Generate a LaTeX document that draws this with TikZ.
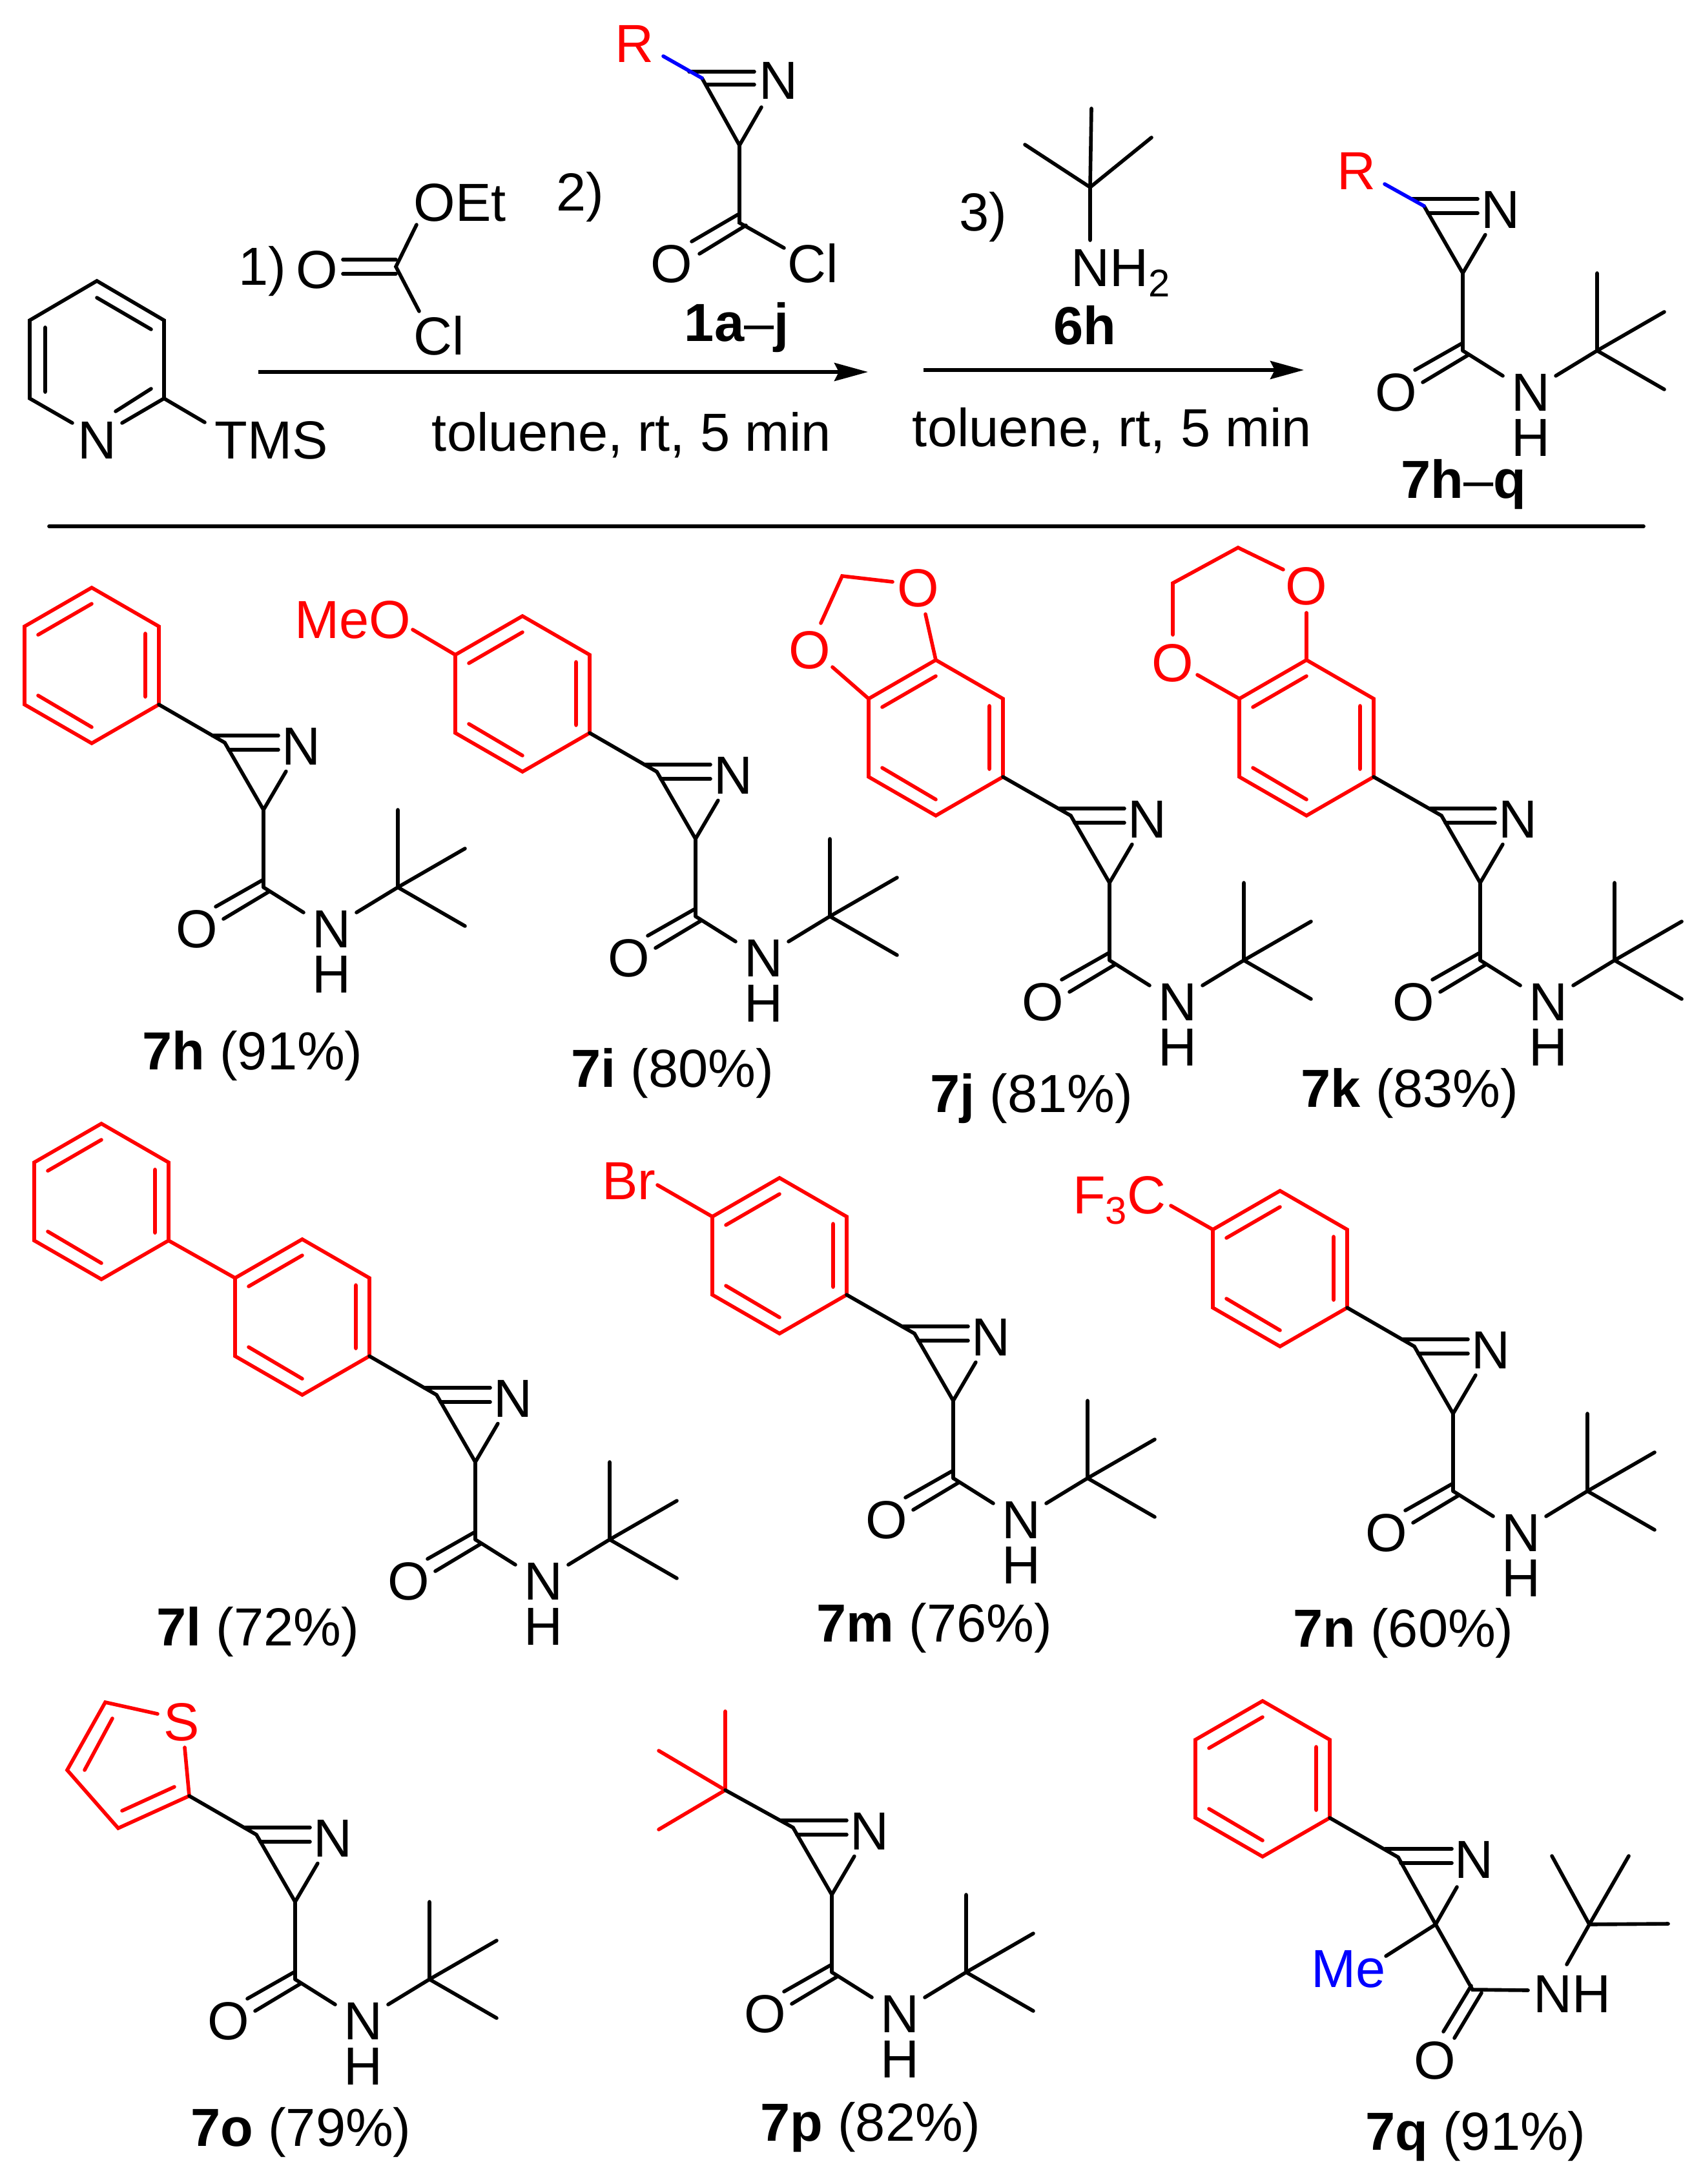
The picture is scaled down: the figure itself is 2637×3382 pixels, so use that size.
\documentclass[tikz,border=0pt]{standalone}
\usepackage{fontspec}
\setmainfont{Liberation Sans}
\usetikzlibrary{arrows.meta}
\definecolor{rd}{RGB}{255,0,0}
\definecolor{bl}{RGB}{0,0,255}
\tikzset{
  every node/.style={font=\fontsize{23.6}{28}\selectfont},
  bond/.style={line width=1.6pt,line cap=round},
  redbond/.style={bond,draw=rd},
  bluebond/.style={bond,draw=bl},
  atom/.style={inner sep=0pt,outer sep=0.1cm,text height=0.59cm,text depth=0pt,anchor=center},
  redatom/.style={atom,text=rd},
  lab/.style={inner sep=0pt,anchor=base},
  rxn/.style={line width=1.6pt,-{Stealth[length=0.52cm,width=0.28cm,inset=0.07cm]}}
}
\newcommand{\subfig}[1]{\raisebox{-0.2em}{\fontsize{17}{17}\selectfont #1}}
% azirine carboxamide, origin at the sp2 carbon
\newcommand{\azamide}[3]{%
\begin{scope}[shift={(#2,#3)}]
\coordinate (#1C3) at (0,0);
\coordinate (#1C2) at (60,104);
\coordinate (#1CO) at (60,224);
\coordinate (#1Q) at (268,224);
\coordinate (#1Me1) at (268,104);
\coordinate (#1Me2) at (372,164);
\coordinate (#1Me3) at (372,284);
\node[atom] (#1N) at (118,5) {N};
\node[atom] (#1O) at (-43,288) {O};
\node[atom,outer sep=0.04cm] (#1H) at (165,358) {H};
\node[atom,outer sep=0pt] (#1NX) at (165,288) {N};
\coordinate (#1a) at (-19,-11);
\coordinate (#1b) at (83,-11);
\coordinate (#1c) at (6,11);
\coordinate (#1d) at (83,11);
\coordinate (#1e) at (60,212);
\coordinate (#1f) at (-14,254);
\coordinate (#1g) at (68,231);
\coordinate (#1h) at (-2,273);
\coordinate (#1i) at (122,263);
\coordinate (#1j) at (204,263);
\draw[bond] (#1a)--(#1b) (#1c)--(#1d);
\draw[bond] (#1C3)--(#1C2)--(#1CO);
\draw[bond] (#1C2)--(#1N);
\draw[bond] (#1e)--(#1f) (#1g)--(#1h);
\draw[bond] (#1CO)--(#1i);
\draw[bond] (#1j)--(#1Q);
\draw[bond] (#1Q)--(#1Me1) (#1Q)--(#1Me2) (#1Q)--(#1Me3);
\end{scope}}
% red benzene ring, origin at the vertex bound to the azirine
\newcommand{\arene}[3]{%
\begin{scope}[shift={(#2,#3)}]
\coordinate (#1v1) at (0,0);
\coordinate (#1v2) at (0,-121);
\coordinate (#1v3) at (-104,-181);
\coordinate (#1v4) at (-208,-121);
\coordinate (#1v5) at (-208,0);
\coordinate (#1v6) at (-104,60);
\coordinate (#1i1) at (-104,-156);
\coordinate (#1i2) at (-187,-108);
\coordinate (#1i3) at (-21,-110);
\coordinate (#1i4) at (-21,-12);
\coordinate (#1i5) at (-187,-14);
\coordinate (#1i6) at (-104,35);
\draw[redbond] (#1v1)--(#1v2)--(#1v3)--(#1v4)--(#1v5)--(#1v6)--cycle;
\draw[redbond] (#1i1)--(#1i2) (#1i3)--(#1i4) (#1i5)--(#1i6);
\end{scope}}
\begin{document}
\begin{tikzpicture}[x=0.01cm,y=-0.01cm]
\path[use as bounding box,fill=white] (0,0) rectangle (2637,3382);
% ---------- scheme ----------
\coordinate (p1) at (150,435);
\coordinate (p2) at (254,496);
\coordinate (p3) at (254,617);
\node[atom] (pN) at (150,681) {N};
\coordinate (p5) at (46,617);
\coordinate (p6) at (46,496);
\coordinate (pa) at (150,461);
\coordinate (pb) at (234,510);
\coordinate (pc) at (70,507);
\coordinate (pd) at (70,607);
\coordinate (pe) at (234,602);
\coordinate (pf) at (179,637);
\coordinate (pg) at (189,655);
\coordinate (ph) at (112,655);
\coordinate (pi) at (317,654);
\node[atom] (TMS) at (420,681) {TMS};
\draw[bond] (ph)--(p5)--(p6)--(p1)--(p2)--(p3)--(pg);
\draw[bond] (pa)--(pb) (pc)--(pd) (pe)--(pf);
\draw[bond] (p3)--(pi);
\node[lab] (s1) at (406,442) {1)};
\node[atom] (eO) at (491,417) {O};
\coordinate (eC) at (613,413);
\coordinate (ea) at (531,402);
\coordinate (eb) at (613,402);
\coordinate (ec) at (531,424);
\coordinate (ed) at (613,424);
\node[atom] (eOEt) at (712,313) {OEt};
\node[atom] (eCl) at (680,520) {Cl};
\coordinate (ee) at (645,348);
\coordinate (ef) at (649,482);
\draw[bond] (ea)--(eb) (ec)--(ed);
\draw[bond] (ee)--(eC)--(ef);
\node[lab] (s2) at (898,327) {2)};
\node[atom,text=rd] (aR) at (982,67) {R};
\node[atom] (aN) at (1205,124) {N};
\coordinate (aC3) at (1087,121);
\coordinate (aC2) at (1145,225);
\coordinate (aCO) at (1145,345);
\coordinate (ar) at (1027,87);
\coordinate (aa) at (1067,111);
\coordinate (ab) at (1168,111);
\coordinate (ac) at (1094,131);
\coordinate (ad) at (1168,131);
\coordinate (ae) at (1143,332);
\coordinate (af) at (1071,374);
\coordinate (ag) at (1155,349);
\coordinate (ah) at (1083,393);
\coordinate (ai) at (1214,384);
\coordinate (aj) at (1179,166);
\node[atom] (aO) at (1040,408) {O};
\node[atom] (aCl) at (1259,408) {Cl};
\draw[bond] (aa)--(ab) (ac)--(ad);
\draw[bond] (aC3)--(aC2)--(aCO)--(ai);
\draw[bond] (aC2)--(aj);
\draw[bond] (ae)--(af) (ag)--(ah);
\draw[bluebond] (ar)--(aC3);
\node[lab] (1aj) at (1141,528) {\textbf{1a}–\textbf{j}};
\coordinate (A1s) at (400,576);
\coordinate (A1e) at (1344,576);
\draw[rxn] (A1s)--(A1e);
\node[lab] (cond1) at (978,698) {toluene, rt, 5 min};
\node[lab] (s3) at (1522,358) {3)};
\coordinate (bQ) at (1688,290);
\coordinate (b1) at (1690,168);
\coordinate (b2) at (1587,224);
\coordinate (b3) at (1783,213);
\coordinate (b4) at (1688,372);
\draw[bond] (bQ)--(b1) (bQ)--(b2) (bQ)--(b3) (bQ)--(b4);
\node[inner sep=0pt,anchor=base west] (NH2) at (1658,443) {NH\subfig{2}};
\node[lab] (6h) at (1680,534) {\textbf{6h}};
\coordinate (A2s) at (1430,573);
\coordinate (A2e) at (2019,573);
\draw[rxn] (A2s)--(A2e);
\node[lab] (cond2) at (1722,691) {toluene, rt, 5 min};
\azamide{P}{2205}{319}
\node[atom,text=rd] (PR) at (2100,264) {R};
\coordinate (Pr) at (2144,285);
\draw[bluebond] (Pr)--(PC3);
\node[lab] (7hq) at (2266,771) {\textbf{7h}–\textbf{q}};
\coordinate (L1) at (76,815);
\coordinate (L2) at (2545,815);
\draw[bond] (L1)--(L2);
% ---------- 7h ----------
\arene{h}{246}{1091}
\azamide{h}{348}{1150}
\draw[bond] (hv1)--(hC3);
\node[lab] (7h) at (391,1656) {\textbf{7h} (91\%)};
% ---------- 7i ----------
\arene{i}{913}{1135}
\azamide{i}{1017}{1195}
\draw[bond] (iv1)--(iC3);
\node[atom,text=rd] (iMeO) at (546,959) {MeO};
\coordinate (ix) at (639,975);
\draw[redbond] (ix)--(iv4);
\node[lab] (7i) at (1041,1683) {\textbf{7i} (80\%)};
% ---------- 7j ----------
\arene{j}{1553}{1203}
\azamide{j}{1658}{1263}
\draw[bond] (jv1)--(jC3);
\node[redatom] (jO1) at (1422,910) {O};
\node[redatom] (jO2) at (1254,1006) {O};
\coordinate (jCH) at (1304,892);
\coordinate (jx1) at (1433,951);
\coordinate (jx2) at (1382,901);
\coordinate (jx3) at (1271,965);
\coordinate (jx4) at (1289,1033);
\draw[redbond] (jv3)--(jx1);
\draw[redbond] (jx2)--(jCH)--(jx3);
\draw[redbond] (jx4)--(jv4);
\node[lab] (7j) at (1597,1722) {\textbf{7j} (81\%)};
% ---------- 7k ----------
\arene{k}{2127}{1203}
\azamide{k}{2232}{1263}
\draw[bond] (kv1)--(kC3);
\node[redatom] (kO1) at (2023,907) {O};
\node[redatom] (kO2) at (1816,1026) {O};
\coordinate (kx1) at (2023,949);
\coordinate (kx2) at (1854,1045);
\coordinate (kx3) at (1816,983);
\coordinate (kx4) at (1816,903);
\coordinate (kx5) at (1917,848);
\coordinate (kx6) at (1987,882);
\draw[redbond] (kv3)--(kx1);
\draw[redbond] (kx2)--(kv4);
\draw[redbond] (kx3)--(kx4)--(kx5)--(kx6);
\node[lab] (7k) at (2183,1714) {\textbf{7k} (83\%)};
% ---------- 7l ----------
\arene{m}{261}{1921}
\arene{l}{572}{2100}
\azamide{l}{676}{2160}
\draw[redbond] (mv1)--(lv4);
\draw[bond] (lv1)--(lC3);
\node[lab] (7l) at (399,2548) {\textbf{7l} (72\%)};
% ---------- 7m ----------
\arene{r}{1311}{2005}
\azamide{r}{1416}{2065}
\draw[bond] (rv1)--(rC3);
\node[atom,text=rd] (rBr) at (974,1828) {Br};
\coordinate (rx) at (1018,1835);
\draw[redbond] (rx)--(rv4);
\node[lab] (7m) at (1447,2542) {\textbf{7m} (76\%)};
% ---------- 7n ----------
\arene{f}{2086}{2025}
\azamide{f}{2190}{2085}
\draw[bond] (fv1)--(fC3);
\node[lab,text=rd] (fCF) at (1733,1879) {F\subfig{3}C};
\coordinate (fx) at (1813,1867);
\draw[redbond] (fx)--(fv4);
\node[lab] (7n) at (2173,2550) {\textbf{7n} (60\%)};
% ---------- 7o ----------
\azamide{o}{397}{2841}
\coordinate (ov1) at (293,2781);
\coordinate (ov2) at (183,2831);
\coordinate (ov3) at (104,2741);
\coordinate (ov4) at (163,2636);
\node[redatom] (oS) at (281,2666) {S};
\coordinate (ox1) at (244,2654);
\coordinate (ox2) at (286,2706);
\coordinate (oi1) at (270,2767);
\coordinate (oi2) at (189,2804);
\coordinate (oi3) at (174,2661);
\coordinate (oi4) at (131,2741);
\draw[redbond] (ox2)--(ov1)--(ov2)--(ov3)--(ov4)--(ox1);
\draw[redbond] (oi1)--(oi2) (oi3)--(oi4);
\draw[bond] (ov1)--(oC3);
\node[lab] (7o) at (466,3323) {\textbf{7o} (79\%)};
% ---------- 7p ----------
\azamide{t}{1228}{2830}
\coordinate (tX) at (1123,2772);
\coordinate (tM1) at (1123,2650);
\coordinate (tM2) at (1020,2711);
\coordinate (tM3) at (1020,2833);
\draw[redbond] (tX)--(tM1) (tX)--(tM2) (tX)--(tM3);
\draw[bond] (tX)--(tC3);
\node[lab] (7p) at (1348,3315) {\textbf{7p} (82\%)};
% ---------- 7q ----------
\arene{q}{2059}{2815}
\coordinate (qC3) at (2165,2876);
\coordinate (qC2) at (2223,2980);
\coordinate (qCO) at (2280,3081);
\coordinate (qQ) at (2461,2980);
\coordinate (qM1) at (2403,2874);
\coordinate (qM2) at (2522,2874);
\coordinate (qM3) at (2583,2979);
\node[atom] (qN) at (2282,2879) {N};
\node[atom,text=bl] (qMe) at (2088,3048) {Me};
\node[atom] (qO) at (2222,3190) {O};
\node[atom] (qNH) at (2434,3087) {NH};
\coordinate (qa) at (2145,2863);
\coordinate (qb) at (2248,2863);
\coordinate (qc) at (2169,2885);
\coordinate (qd) at (2248,2885);
\coordinate (qe) at (2278,3075);
\coordinate (qf) at (2235,3146);
\coordinate (qg) at (2294,3086);
\coordinate (qh) at (2252,3156);
\coordinate (qi) at (2256,2922);
\coordinate (qj) at (2146,3029);
\coordinate (qk) at (2366,3082);
\coordinate (ql) at (2426,3042);
\draw[bond] (qv1)--(qC3);
\draw[bond] (qa)--(qb) (qc)--(qd);
\draw[bond] (qC3)--(qC2)--(qCO)--(qk);
\draw[bond] (qC2)--(qi) (qC2)--(qj);
\draw[bond] (qe)--(qf) (qg)--(qh);
\draw[bond] (ql)--(qQ);
\draw[bond] (qQ)--(qM1) (qQ)--(qM2) (qQ)--(qM3);
\node[lab] (7q) at (2285,3329) {\textbf{7q} (91\%)};
\end{tikzpicture}
\end{document}
